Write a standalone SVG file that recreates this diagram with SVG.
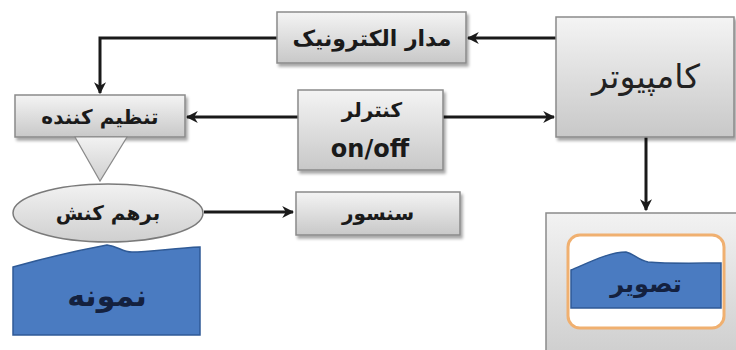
<svg xmlns="http://www.w3.org/2000/svg" width="736" height="350" viewBox="0 0 736 350">
<defs>
<linearGradient id="g" x1="0" y1="0" x2="0" y2="1">
<stop offset="0" stop-color="#f4f4f4"/>
<stop offset="1" stop-color="#c8c8c8"/>
</linearGradient>
<linearGradient id="ge" x1="0" y1="0" x2="0" y2="1">
<stop offset="0" stop-color="#f2f2f2"/>
<stop offset="1" stop-color="#cfcfcf"/>
</linearGradient>
<filter id="sh" x="-10%" y="-10%" width="130%" height="140%">
<feDropShadow dx="2" dy="3" stdDeviation="1.5" flood-color="#000" flood-opacity="0.35"/>
</filter>
<marker id="ah" viewBox="0 0 10 10" refX="9" refY="5" markerWidth="4" markerHeight="4" orient="auto" markerUnits="strokeWidth">
<path d="M0,0 L10,5 L0,10 L3,5 Z" fill="#1a1a1a"/>
</marker>
</defs>
<style>
.box{fill:url(#g);stroke:#8a8a8a;stroke-width:1.5;filter:url(#sh)}
.lbl{font-family:"DejaVu Sans","Noto Sans",sans-serif;font-weight:bold;fill:#1a1a1a;text-anchor:middle}
.con{fill:none;stroke:#1a1a1a;stroke-width:3}
.arr{marker-end:url(#ah)}
.blue{fill:#4a7bc1;stroke:#2f5a96;stroke-width:1.5}
.big{font-family:"DejaVu Sans","Noto Sans",sans-serif;font-weight:bold;fill:#14213f;text-anchor:middle}
</style>
<g id="connectors">
<path class="con arr" d="M556,38 H468"/>
<path class="con arr" d="M277,38 H100 V93"/>
<path class="con arr" d="M298,117 H187"/>
<path class="con arr" d="M443,117 H554"/>
<path class="con arr" d="M646,137 V210"/>
<path class="con arr" d="M204,212 H293"/>
</g>
<g id="electronic">
<rect class="box" x="277" y="12" width="189" height="51"/>
<text class="lbl" x="372" y="46" font-size="22" direction="rtl">مدار الکترونیک</text>
</g>
<g id="computer">
<rect class="box" x="556" y="17" width="178" height="120"/>
<text x="646" y="88" font-size="33" font-family="DejaVu Sans, sans-serif" fill="#222" text-anchor="middle" direction="rtl">کامپیوتر</text>
</g>
<g id="controller">
<rect class="box" x="298" y="90" width="145" height="80"/>
<text class="lbl" x="372" y="117" font-size="20" direction="rtl">کنترلر</text>
<text class="lbl" x="370" y="157" font-size="24">on/off</text>
</g>
<g id="regulator">
<rect class="box" x="15" y="95" width="170" height="42"/>
<text class="lbl" x="100" y="124" font-size="20" direction="rtl">تنظیم کننده</text>
<polygon points="75,137 127,137 100,181" fill="url(#ge)" stroke="#8a8a8a" stroke-width="1.2"/>
</g>
<g id="interaction">
<ellipse cx="108" cy="213" rx="95" ry="29" fill="url(#ge)" stroke="#7a7a7a" stroke-width="1.5"/>
<text class="lbl" x="108" y="220" font-size="20" direction="rtl">برهم کنش</text>
</g>
<g id="sensor">
<rect class="box" x="296" y="192" width="164" height="43"/>
<text class="lbl" x="378" y="220" font-size="20" direction="rtl">سنسور</text>
</g>
<g id="sample">
<path class="blue" d="M13,267 C45,258 80,250 107,245 C118,246 122,252 132,252 C150,252 175,248 200,247 V335 H13 Z"/>
<text class="big" x="107" y="306" font-size="30" direction="rtl">نمونه</text>
</g>
<g id="image">
<rect x="546" y="213" width="192" height="140" fill="url(#ge)" stroke="#8a8a8a" stroke-width="1.5"/>
<rect x="568" y="235" width="156" height="93" rx="12" fill="#fff" stroke="#f0b070" stroke-width="3"/>
<path class="blue" d="M571,270 C590,262 610,252 626,252 C634,254 638,260 648,262 C670,264 700,263 721,263 V308 H571 Z"/>
<text class="big" x="646" y="292" font-size="24" direction="rtl">تصویر</text>
</g>
</svg>
